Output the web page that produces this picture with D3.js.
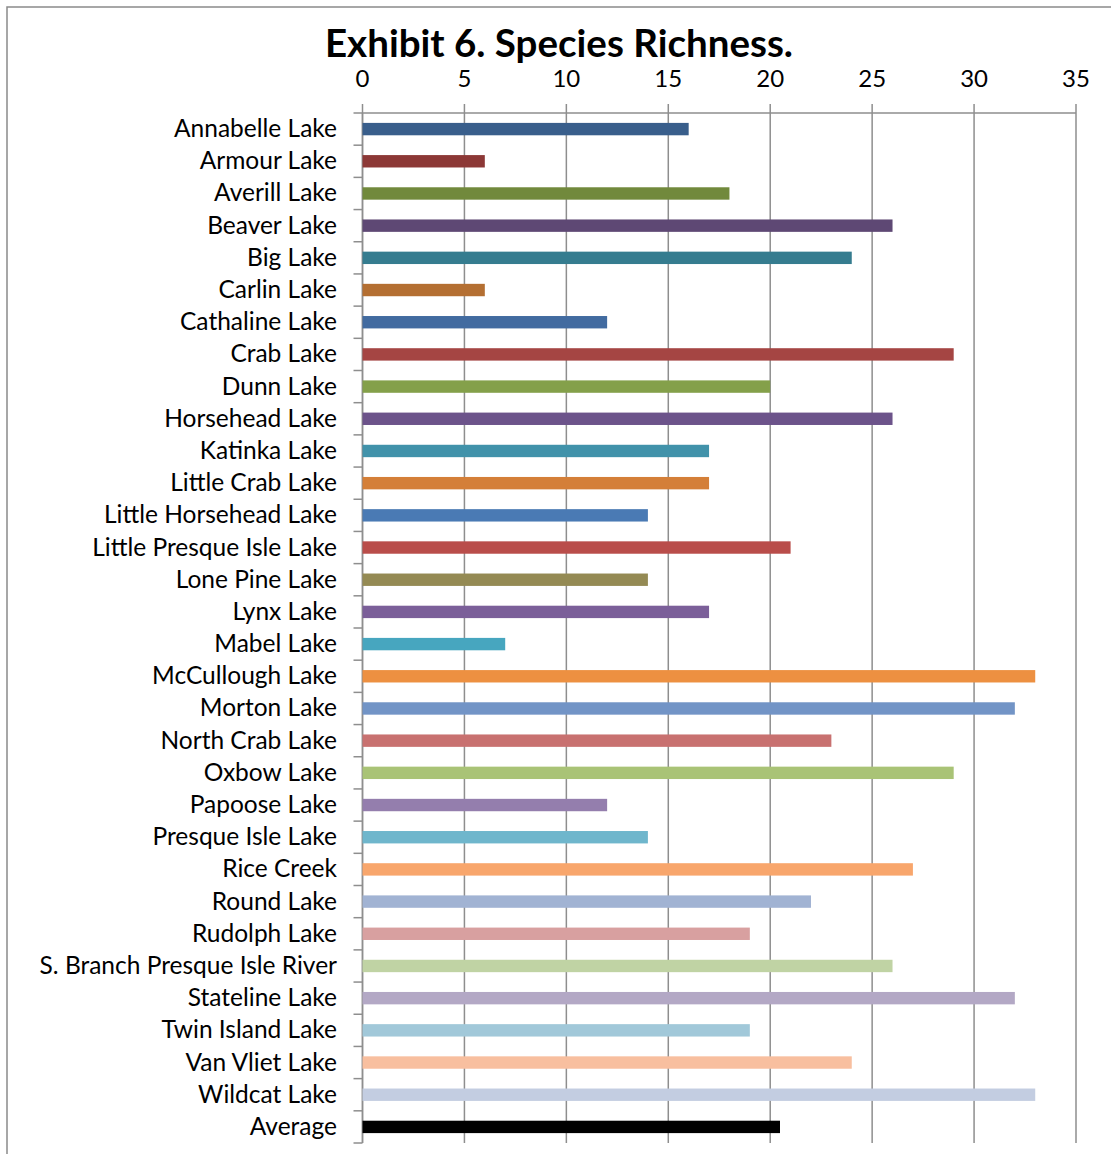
<!DOCTYPE html>
<html><head><meta charset="utf-8">
<script src="https://cdn.jsdelivr.net/npm/d3@7"></script>
<style>
html,body{margin:0;padding:0;background:#fff;}
svg{display:block;}
text{font-family:Lato,"Open Sans",sans-serif;fill:#000;}
</style></head>
<body>
<script>
const categories = ["Annabelle Lake","Armour Lake","Averill Lake","Beaver Lake","Big Lake","Carlin Lake","Cathaline Lake","Crab Lake","Dunn Lake","Horsehead Lake","Katinka Lake","Little Crab Lake","Little Horsehead Lake","Little Presque Isle Lake","Lone Pine Lake","Lynx Lake","Mabel Lake","McCullough Lake","Morton Lake","North Crab Lake","Oxbow Lake","Papoose Lake","Presque Isle Lake","Rice Creek","Round Lake","Rudolph Lake","S. Branch Presque Isle River","Stateline Lake","Twin Island Lake","Van Vliet Lake","Wildcat Lake","Average"];
const values = [16,6,18,26,24,6,12,29,20,26,17,17,14,21,14,17,7,33,32,23,29,12,14,27,22,19,26,32,19,24,33,20.48];
const colors = ["#395E8B","#8C3836","#71893C","#5E4874","#357C8F","#B46F32","#426BA0","#A54543","#84A04A","#6C538A","#4192AA","#D47F38","#4A7AB4","#B94D4A","#948A54","#7B5F99","#47A6BF","#ED9041","#7294C6","#C87170","#A9C376","#947EAD","#6FB6CC","#F8A66C","#A1B3D3","#D8A0A0","#C0D3A4","#B3A8C5","#A1C8D9","#F8BF9F","#C3CDE1","#000000"];
const xTicks = [0,5,10,15,20,25,30,35];
const title = "Exhibit 6. Species Richness.";

(function(){
const W = 1111, H = 1154;
const svg = d3.select("body").append("svg").attr("width", W).attr("height", H);

svg.append("rect").attr("x",7).attr("y",7).attr("width",W).attr("height",H)
  .attr("fill","none").attr("stroke","#8a8a8a").attr("stroke-width",1.5);

const pL = 362.5, pR = 1076, pT = 113, pB = 1143;
const x = d3.scaleLinear().domain([0,35]).range([pL,pR]);
const y = d3.scaleBand().domain(categories).range([pT,pB]).paddingInner(0.615).paddingOuter(0.3075);

const grid = "#8e8e8e";
svg.append("g").selectAll("line").data(xTicks).join("line")
  .attr("x1",d=>x(d)).attr("x2",d=>x(d)).attr("y1",pT-9).attr("y2",pB)
  .attr("stroke",grid).attr("stroke-width",1.5);
svg.append("line").attr("x1",pL).attr("x2",pR).attr("y1",pT).attr("y2",pT)
  .attr("stroke",grid).attr("stroke-width",1.5);
svg.append("g").selectAll("text").data(xTicks).join("text")
  .attr("x",d=>x(d)).attr("y",87).attr("text-anchor","middle")
  .style("font-size","24px").text(d=>d);

svg.append("line").attr("x1",pL).attr("x2",pL).attr("y1",pT).attr("y2",pB)
  .attr("stroke",grid).attr("stroke-width",1.5);
const gap = (y.step()-y.bandwidth())/2;
const bounds = categories.map(c=>y(c)-gap).concat([y(categories[categories.length-1])+y.bandwidth()+gap]);
svg.append("g").selectAll("line").data(bounds).join("line")
  .attr("x1",pL-9).attr("x2",pL).attr("y1",d=>d).attr("y2",d=>d)
  .attr("stroke",grid).attr("stroke-width",1.5);

svg.append("g").selectAll("rect").data(categories).join("rect")
  .attr("x",x(0)).attr("y",d=>y(d))
  .attr("width",(d,i)=>x(values[i])-x(0)).attr("height",y.bandwidth())
  .attr("fill",(d,i)=>colors[i]);

svg.append("g").selectAll("text").data(categories).join("text")
  .attr("x",337).attr("y",d=>y(d)+y.bandwidth()/2+8).attr("text-anchor","end")
  .style("font-size","24.5px").text(d=>d);

svg.append("text").attr("x",559).attr("y",57).attr("text-anchor","middle")
  .style("font-size","38.5px").style("font-weight","bold").text(title);
})();
</script>
</body></html>
